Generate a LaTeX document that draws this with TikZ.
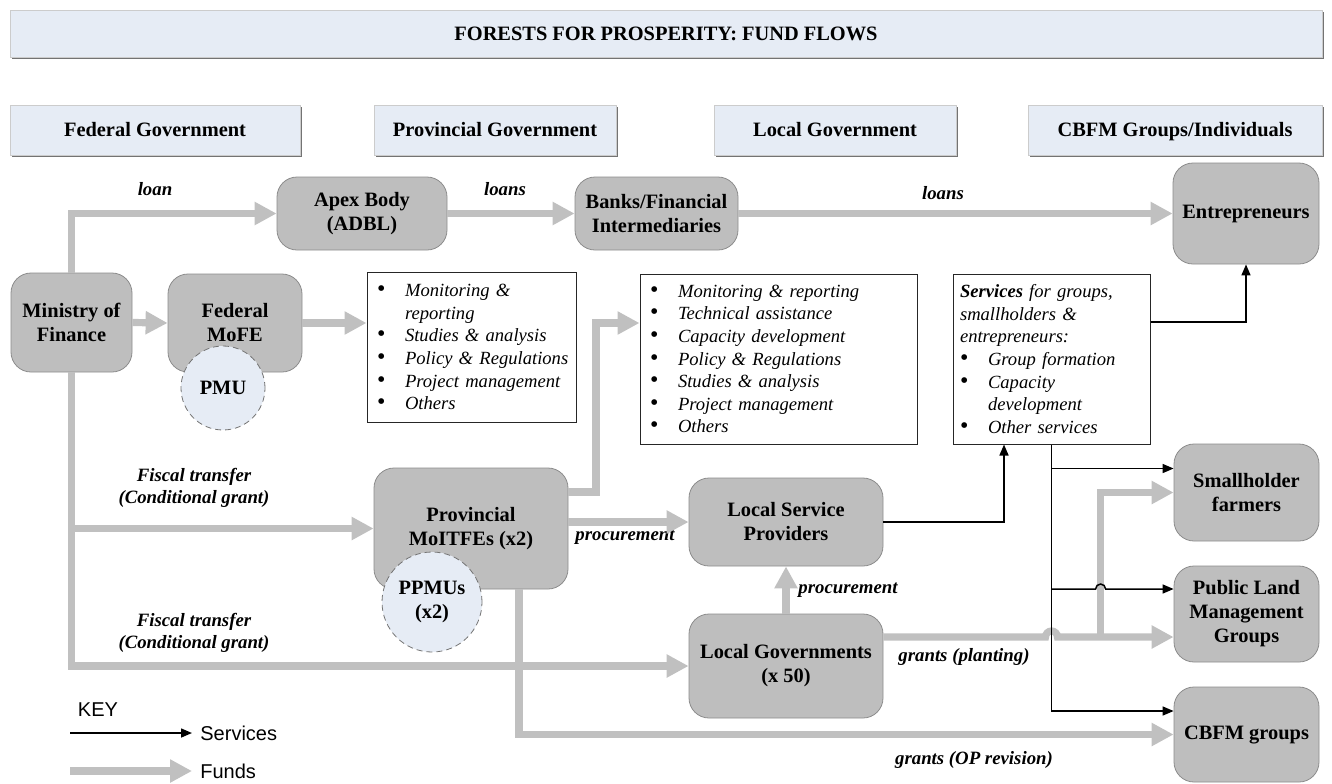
\documentclass[tikz,border=0pt]{standalone}
\usepackage{fontspec}
\setmainfont{Liberation Serif}
\setsansfont{Liberation Sans}
\usepackage{tikz}
\usetikzlibrary{arrows.meta}
\usetikzlibrary{calc}
\usetikzlibrary{shadows}

\definecolor{hdrblue}{HTML}{E6ECF5}
\definecolor{boxgray}{HTML}{BEBEBE}
\definecolor{fundgray}{HTML}{C0C0C0}

\newcommand{\lit}[1]{\mbox{\makebox[14pt][l]{\upshape\fontsize{12}{11}\selectfont\textbullet}#1}}
\newcommand{\lcont}[1]{\mbox{\hspace*{14pt}#1}}

\tikzset{
  hdr/.style={draw=black!20, fill=hdrblue, inner sep=0pt, text height=6.8pt, text depth=0pt,
    font=\fontsize{10.2}{12}\selectfont\bfseries,
    drop shadow={shadow xshift=0.9pt, shadow yshift=-0.9pt, fill=black!55, opacity=1}},
  org/.style={draw=black!45, fill=boxgray, rounded corners=10pt, inner sep=0pt,
    align=center, font=\fontsize{10.2}{12}\selectfont\bfseries},
  pmucirc/.style={circle, draw=black!55, densely dashed, fill=hdrblue, inner sep=0pt,
    align=center, font=\fontsize{10.2}{12}\selectfont\bfseries},
  tasks/.style={draw=black!85, line width=0.5pt, align=left, inner ysep=0pt,
    font=\fontsize{9.3}{11.3}\selectfont\itshape},
  flowlbl/.style={inner sep=0pt, align=center,
    font=\fontsize{9.4}{11}\selectfont\bfseries\itshape},
  keytxt/.style={font=\sffamily\fontsize{10}{12}\selectfont},
  fund/.style={draw=fundgray, line width=3.6pt, -{Triangle[length=11pt,width=11pt]}},
  svc/.style={draw=black, line width=0.75pt, -{Triangle[length=5.5pt,width=4.5pt]}},
}

\begin{document}
\begin{tikzpicture}[x=0.5pt,y=-0.5pt]
  \useasboundingbox (0,0) rectangle (1332,783);

  \node[hdr, minimum width=656pt, minimum height=23.5pt] (title) at (666,33.5) {FORESTS FOR PROSPERITY: FUND FLOWS};
  \node[hdr, minimum width=145pt, minimum height=25pt] (hFed) at (155,130) {Federal Government};
  \node[hdr, minimum width=121pt, minimum height=25pt] (hProv) at (495,130) {Provincial Government};
  \node[hdr, minimum width=121pt, minimum height=25pt] (hLoc) at (835,130) {Local Government};
  \node[hdr, minimum width=147pt, minimum height=25pt] (hCbfm) at (1175,130) {CBFM Groups/Individuals};

  \node[org, minimum width=60.5pt, minimum height=49.5pt] (mof) at (71.5,322.5) {Ministry of\\Finance};
  \node[org, minimum width=67pt, minimum height=49pt] (mofe) at (235,323) {Federal\\MoFE};
  \node[pmucirc, minimum size=42pt] (pmu) at (223,388) {PMU};
  \node[org, minimum width=85pt, minimum height=36.5pt] (apex) at (362,213.5) {Apex Body\\(ADBL)};
  \node[org, minimum width=81.5pt, minimum height=36.5pt] (banks) at (656.5,213.5) {Banks/Financial\\Intermediaries};
  \node[org, minimum width=73pt, minimum height=50.5pt] (entr) at (1246,213.5) {Entrepreneurs};
  \node[org, minimum width=97pt, minimum height=60.5pt] (prov) at (471,528.5) {Provincial\\MoITFEs (x2)};
  \node[pmucirc, minimum size=50pt] (ppmu) at (432,602) {PPMUs\\(x2)};
  \node[org, minimum width=97pt, minimum height=44pt] (lsp) at (786,522) {Local Service\\Providers};
  \node[org, minimum width=97pt, minimum height=52pt] (lg) at (786,666) {Local Governments\\(x 50)};
  \node[org, minimum width=72.5pt, minimum height=48.5pt] (small) at (1246.5,492.5) {Smallholder\\farmers};
  \node[org, minimum width=72.5pt, minimum height=48pt] (plmg) at (1246.5,614) {Public Land\\Management\\Groups};
  \node[org, minimum width=72.5pt, minimum height=47.5pt] (cbfm) at (1246.5,734.5) {CBFM groups};

  \node[tasks, inner xsep=5pt, text width=94.5pt, minimum height=75pt] (list1) at (471.5,347)
    {\lit{Monitoring \&}\\ \lcont{reporting}\\ \lit{Studies \& analysis}\\ \lit{Policy \& Regulations}\\ \lit{Project management}\\ \lit{Others}};
  \node[tasks, inner xsep=5pt, text width=128.5pt, minimum height=85pt] (list2) at (778.5,359)
    {\lit{Monitoring \& reporting}\\ \lit{Technical assistance}\\ \lit{Capacity development}\\ \lit{Policy \& Regulations}\\ \lit{Studies \& analysis}\\ \lit{Project management}\\ \lit{Others}};
  \node[tasks, inner xsep=3.5pt, text width=91.5pt, minimum height=85pt] (list3) at (1051.5,359)
    {\mbox{\textbf{Services} for groups,}\\ smallholders \&\\ entrepreneurs:\\ \lit{Group formation}\\ \lit{Capacity}\\ \lcont{development}\\ \lit{Other services}};

  \node[flowlbl] (lLoan) at (155,189) {loan};
  \node[flowlbl] (lLoans) at (505,189) {loans};
  \node[flowlbl] (lLoansEnt) at (943,193) {loans};
  \node[flowlbl] (lFiscalProv) at (194,488) {Fiscal transfer\\(Conditional grant)};
  \node[flowlbl] (lFiscalLoc) at (194,633) {Fiscal transfer\\(Conditional grant)};
  \node[flowlbl] (lProcProv) at (625,537) {procurement};
  \node[flowlbl] (lProcLoc) at (848,590) {procurement};
  \node[flowlbl] (lPlant) at (964,657) {grants (planting)};
  \node[flowlbl] (lOpRev) at (974,760) {grants (OP revision)};

  % funds
  \draw[fund] (mof.north) |- (apex.west);
  \draw[fund] (mof.east) -- (mofe.west);
  \draw[fund] (mofe.east) -- (mofe.east -| list1.west);
  \draw[fund] (apex.east) -- (banks.west);
  \draw[fund] (banks.east) -- (entr.west);
  \draw[fund] (mof.south) |- (lg.west);
  \draw[fund] (mof.south |- prov.west) -- (prov.west);
  \coordinate (bendList) at (596,323);
  \draw[fund] ([yshift=18.25pt]prov.east) -| (bendList) -- (list2.west |- bendList);
  \draw[fund] (prov.east |- lsp.west) -- (lsp.west);
  \draw[fund] (lg.north) -- (lsp.south);
  \draw[fund] ([xshift=24pt]prov.south) |- (cbfm.west);
  \coordinate (plmgFund) at ([yshift=-11.5pt]plmg.west);
  \coordinate (split) at ($(plmgFund)+(-73,0)$);
  \draw[fund] (lg.east |- plmgFund) -- ($(list3.south |- plmgFund)+(-6,0)$)
    arc[start angle=180, end angle=0, radius=3pt] -- (plmgFund);
  \draw[fund] (split) |- (small.west);

  % services
  \draw[svc] ([yshift=18.5pt]list3.east) -| (entr.south);
  \draw[svc] (lsp.east) -| ($(list3.south)+(-47.5,0)$);
  \coordinate (smallSvc) at ([yshift=12pt]small.west);
  \coordinate (plmgSvc) at ([yshift=12.5pt]plmg.west);
  \coordinate (cbfmSvc) at ([yshift=11.75pt]cbfm.west);
  \draw[svc] (list3.south) |- (cbfmSvc);
  \draw[svc] (list3.south |- smallSvc) -- (smallSvc);
  \draw[svc] (list3.south |- plmgSvc) -- ($(split |- plmgSvc)+(-5,0)$)
    arc[start angle=180, end angle=0, radius=2.5pt] -- (plmgSvc);

  % key
  \node[keytxt, inner sep=0pt] (keyTitle) at (98,710) {KEY};
  \coordinate (keySvcStart) at (70,733);
  \node[keytxt, anchor=west, inner sep=4pt] (keySvc) at (192,733) {Services};
  \draw[svc] (keySvcStart) -- (keySvc.west);
  \coordinate (keyFundStart) at (70,771);
  \node[keytxt, anchor=west, inner sep=4pt] (keyFund) at (192,771) {Funds};
  \draw[fund] (keyFundStart) -- (keyFund.west);
\end{tikzpicture}
\end{document}
